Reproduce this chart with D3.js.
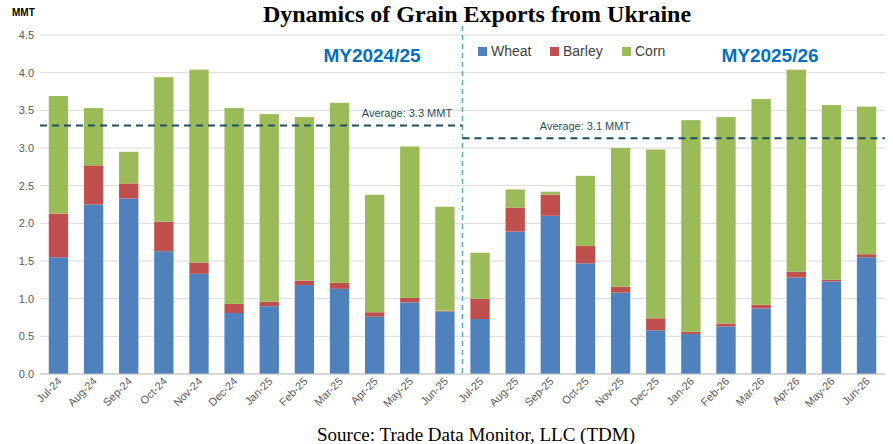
<!DOCTYPE html>
<html>
<meta charset="utf-8">
<style>
body { margin: 0; background: #fff; }
text { font-family: "Liberation Sans", Arial, sans-serif; }
text.serif { font-family: "Liberation Serif", "Times New Roman", serif; }
</style>
<body>
<script src="https://d3js.org/d3.v7.min.js"></script>
<script>
const months = ["Jul-24","Aug-24","Sep-24","Oct-24","Nov-24","Dec-24","Jan-25","Feb-25","Mar-25","Apr-25","May-25","Jun-25",
                "Jul-25","Aug-25","Sep-25","Oct-25","Nov-25","Dec-25","Jan-26","Feb-26","Mar-26","Apr-26","May-26","Jun-26"];
const wheat  = [1.55,2.25,2.33,1.63,1.33,0.81,0.90,1.18,1.13,0.76,0.95,0.83, 0.73,1.89,2.10,1.47,1.08,0.58,0.53,0.63,0.87,1.28,1.23,1.55];
const barley = [0.58,0.52,0.20,0.39,0.15,0.12,0.06,0.06,0.08,0.06,0.06,0.01, 0.27,0.32,0.28,0.23,0.08,0.16,0.03,0.04,0.05,0.08,0.02,0.04];
const corn   = [1.56,0.76,0.42,1.92,2.56,2.60,2.49,2.17,2.39,1.56,2.01,1.38, 0.61,0.24,0.04,0.93,1.84,2.24,2.81,2.74,2.73,2.68,2.32,1.96];
const yTicks = [0,0.5,1,1.5,2,2.5,3,3.5,4,4.5];
const averages = [{label:"Average: 3.3 MMT", value:3.3},
                  {label:"Average: 3.1 MMT", value:3.13}];
const seriesNames = ["Wheat","Barley","Corn"];
const colors = ["#4f81bd","#c0504d","#9bbb59"];

const W = 893, H = 444;
const margin = {top: 35, right: 8, bottom: 70, left: 40};
const svg = d3.select("body").append("svg").attr("width", W).attr("height", H);

const x = d3.scaleBand().domain(months).range([margin.left, W - margin.right]).paddingInner(0.45).paddingOuter(0.25);
const y = d3.scaleLinear().domain([0, 4.5]).range([H - margin.bottom, margin.top]);

// grid
svg.append("g").selectAll("line").data(yTicks).join("line")
  .attr("x1", margin.left).attr("x2", W - margin.right)
  .attr("y1", d => y(d)).attr("y2", d => y(d))
  .attr("stroke", "#d9d9d9");

svg.append("g").selectAll("text").data(yTicks).join("text")
  .attr("x", margin.left - 6).attr("y", d => y(d)).attr("dy", "0.35em")
  .attr("text-anchor", "end").attr("font-size", 11).attr("fill", "#595959")
  .text(d => d.toFixed(1));
svg.append("text").attr("x", 12).attr("y", 16).attr("font-size", 10).attr("font-weight", "bold").text("MMT");

// bars
const rows = months.map((m, i) => ({month: m, Wheat: wheat[i], Barley: barley[i], Corn: corn[i]}));
const stack = d3.stack().keys(seriesNames)(rows);
svg.append("g").selectAll("g").data(stack).join("g")
  .attr("fill", (d, i) => colors[i])
  .selectAll("rect").data(d => d).join("rect")
  .attr("x", d => x(d.data.month)).attr("width", x.bandwidth())
  .attr("y", d => y(d[1])).attr("height", d => y(d[0]) - y(d[1]));

svg.append("line").attr("x1", margin.left).attr("x2", W - margin.right)
  .attr("y1", y(0)).attr("y2", y(0)).attr("stroke", "#bfbfbf");
svg.append("g").selectAll("text").data(months).join("text")
  .attr("transform", d => `translate(${x(d) + x.bandwidth()/2 + 4},${y(0) + 8}) rotate(-45)`)
  .attr("text-anchor", "end").attr("font-size", 11).attr("fill", "#595959")
  .text(d => d);

// divider between marketing years
const divX = (x(months[11]) + x.bandwidth() + x(months[12])) / 2;
svg.append("line").attr("x1", divX).attr("x2", divX).attr("y1", 26).attr("y2", y(0))
  .attr("stroke", "#4bacc6").attr("stroke-width", 1.5).attr("stroke-dasharray", "5,4");

averages.forEach((a, k) => {
  const x1 = k === 0 ? margin.left : divX;
  const x2 = k === 0 ? divX : W - margin.right;
  svg.append("line").attr("x1", x1).attr("x2", x2).attr("y1", y(a.value)).attr("y2", y(a.value))
    .attr("stroke", "#1f4e5f").attr("stroke-width", 2).attr("stroke-dasharray", "7,5");
  svg.append("text").attr("x", k === 0 ? 407 : 585).attr("y", y(a.value) - 8)
    .attr("text-anchor", "middle").attr("font-size", 11).attr("fill", "#1f4e5f").text(a.label);
});

svg.append("text").attr("x", 372).attr("y", 62).attr("text-anchor", "middle")
  .attr("font-size", 19).attr("font-weight", "bold").attr("fill", "#0070c0").text("MY2024/25");
svg.append("text").attr("x", 770).attr("y", 62).attr("text-anchor", "middle")
  .attr("font-size", 19).attr("font-weight", "bold").attr("fill", "#0070c0").text("MY2025/26");

const lg = svg.append("g").selectAll("g").data(seriesNames).join("g")
  .attr("transform", (d, i) => `translate(${[478, 550, 622][i]},47)`);
lg.append("rect").attr("width", 9).attr("height", 9).attr("fill", (d, i) => colors[i]);
lg.append("text").attr("x", 13).attr("y", 9).attr("font-size", 14).attr("fill", "#404040").text(d => d);

svg.append("text").attr("class", "serif").attr("x", 477).attr("y", 22).attr("text-anchor", "middle")
  .attr("font-weight", "bold").attr("font-size", 24).text("Dynamics of Grain Exports from Ukraine");
svg.append("text").attr("class", "serif").attr("x", 476).attr("y", 441).attr("text-anchor", "middle")
  .attr("font-size", 19).text("Source: Trade Data Monitor, LLC (TDM)");
</script>
</body>
</html>
